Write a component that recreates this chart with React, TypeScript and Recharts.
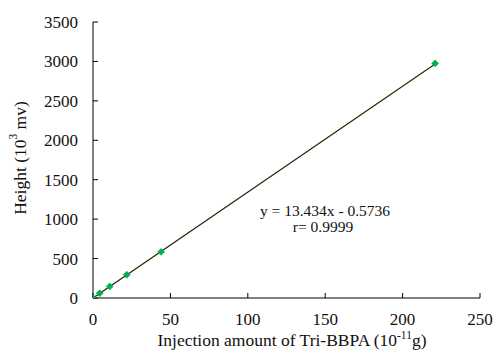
import React from 'react';
import { ScatterChart, Scatter, XAxis, YAxis, Customized } from 'recharts';

const injectionAmounts = [0, 4.3, 10.8, 21.8, 44, 221];
const heights = [0, 60, 147, 295, 585, 2975];
const xTicks = [0, 50, 100, 150, 200, 250];
const yTicks = [0, 500, 1000, 1500, 2000, 2500, 3000, 3500];
const FIT_SLOPE = 13.434;
const FIT_INTERCEPT = -0.5736;
const FIT_R = '0.9999';

const points = injectionAmounts.map((x, i) => ({ x, y: heights[i] }));
const fitXs = [Math.min(...injectionAmounts), Math.max(...injectionAmounts)];
const fitLine = fitXs.map((x) => ({ x, y: FIT_SLOPE * x + FIT_INTERCEPT }));

const FONT = "'Liberation Serif', 'Times New Roman', serif";

const Diamond = (props: any) => {
  const { cx, cy } = props;
  if (cx == null || cy == null) return null;
  const r = 3.4;
  return (
    <polygon
      points={`${cx},${cy - r} ${cx + r},${cy} ${cx},${cy + r} ${cx - r},${cy}`}
      fill="#00b050"
      stroke="#00b050"
      strokeWidth={0.8}
    />
  );
};

const NoShape = () => null;

const XTick = (props: any) => {
  const { x, y, payload } = props;
  return (
    <text x={x} y={y} dy="0.71em" textAnchor="middle" fontSize={17} fontFamily={FONT} fill="#111">
      {payload.value}
    </text>
  );
};

const YTick = (props: any) => {
  const { x, y, payload } = props;
  return (
    <text x={x} y={y} dy="0.355em" textAnchor="end" fontSize={17} fontFamily={FONT} fill="#111">
      {payload.value}
    </text>
  );
};

const Texts = () => (
  <g fontFamily={FONT} fill="#111">
    <text x={20} y={158} fontSize={17.5} textAnchor="middle" dominantBaseline="central" transform="rotate(-90 20 158)">
      Height (10<tspan fontSize={11.5} dy={-7}>3</tspan><tspan dy={7}> mv)</tspan>
    </text>
    <text x={292} y={346} fontSize={17.5} textAnchor="middle">
      Injection amount of Tri-BBPA (10<tspan fontSize={11.5} dy={-7}>-11</tspan><tspan dy={7}>g)</tspan>
    </text>
    <text x={325} y={216} fontSize={15.5} textAnchor="middle">
      {`y = ${FIT_SLOPE}x - ${Math.abs(FIT_INTERCEPT)}`}
    </text>
    <text x={323} y={232} fontSize={15.5} textAnchor="middle">
      {`r= ${FIT_R}`}
    </text>
  </g>
);

export default function App() {
  return (
    <div style={{ position: 'fixed', left: 0, top: 0, width: 493, height: 355, background: '#fff', fontFamily: FONT }}>
      <ScatterChart width={493} height={355} margin={{ top: 22, right: 13, bottom: 0, left: 0 }}>
        <XAxis
          type="number"
          dataKey="x"
          domain={[0, 250]}
          ticks={xTicks}
          height={57}
          tickSize={-5}
          tickMargin={20}
          axisLine={{ stroke: '#000', strokeWidth: 1 }}
          tickLine={{ stroke: '#000', strokeWidth: 1 }}
          tick={<XTick />}
          allowDataOverflow
        />
        <YAxis
          type="number"
          dataKey="y"
          domain={[0, 3500]}
          ticks={yTicks}
          width={93}
          tickSize={-5}
          tickMargin={20}
          axisLine={{ stroke: '#000', strokeWidth: 1 }}
          tickLine={{ stroke: '#000', strokeWidth: 1 }}
          tick={<YTick />}
          allowDataOverflow
        />
        <Scatter
          data={fitLine}
          line={{ stroke: '#2e2400', strokeWidth: 1.2 }}
          shape={NoShape}
          isAnimationActive={false}
        />
        <Scatter data={points} shape={Diamond} isAnimationActive={false} />
        <Customized component={Texts} />
      </ScatterChart>
    </div>
  );
}
